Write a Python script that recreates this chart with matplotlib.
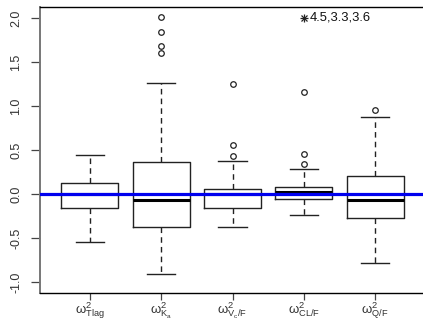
import matplotlib
matplotlib.use("Agg")
import matplotlib.pyplot as plt

labels = [r'$\mathrm{\omega}^{2}_{\mathrm{Tlag}}$',
          r'$\mathrm{\omega}^{2}_{\mathrm{K_a}}$',
          r'$\mathrm{\omega}^{2}_{\mathrm{V_c}/\mathrm{F}}$',
          r'$\mathrm{\omega}^{2}_{\mathrm{CL}/\mathrm{F}}$',
          r'$\mathrm{\omega}^{2}_{\mathrm{Q}/\mathrm{F}}$']
whislo = [-0.548, -0.909, -0.377, -0.237, -0.784]
q1 = [-0.164, -0.374, -0.161, -0.055, -0.267]
med = [0.0, -0.073, 0.0, 0.022, -0.062]
q3 = [0.121, 0.360, 0.059, 0.082, 0.204]
whishi = [0.446, 1.260, 0.378, 0.280, 0.879]
fliers = [[], [2.007, 1.844, 1.681, 1.597], [1.252, 0.557, 0.435],
          [1.164, 0.458, 0.337], [0.956]]
note_text = "4.5,3.3,3.6"
note_x, note_y = 4, 2.0
yticks = [-1.0, -0.5, 0.0, 0.5, 1.0, 1.5, 2.0]

plt.rcParams['font.family'] = ['Liberation Sans', 'DejaVu Sans']
plt.rcParams['mathtext.fontset'] = 'custom'
plt.rcParams['mathtext.rm'] = 'Liberation Sans'
plt.rcParams['mathtext.it'] = 'Liberation Sans:italic'
plt.rcParams['mathtext.bf'] = 'Liberation Sans:bold'

W, H = 423, 322
fig = plt.figure(figsize=(W/100, H/100), dpi=100)
left_px, right_px, top_px, bot_px = 40.1, 424.9, 7.3, 292.7
ax = fig.add_axes([left_px/W, 1-bot_px/H, (right_px-left_px)/W, (bot_px-top_px)/H])

stats = []
for i in range(5):
    stats.append(dict(med=med[i], q1=q1[i], q3=q3[i], whislo=whislo[i],
                      whishi=whishi[i], fliers=fliers[i], label=labels[i]))

ec = '#222222'
ax.bxp(stats, positions=range(1, 6), widths=0.8, patch_artist=False,
       boxprops=dict(color=ec, linewidth=1.0),
       whiskerprops=dict(color=ec, linewidth=1.0, linestyle=(0, (4, 3))),
       capprops=dict(color=ec, linewidth=1.0),
       medianprops=dict(color='black', linewidth=2.2, solid_capstyle='butt'),
       flierprops=dict(marker='o', markersize=4, markerfacecolor='none',
                       markeredgecolor=ec, markeredgewidth=0.9),
       capwidths=0.4)

ax.axhline(0, color='#0000ee', linewidth=2.3, zorder=5)

ax.plot([note_x], [note_y], marker='+', markersize=6, color='#222222', mew=0.9, ls='none')
ax.plot([note_x], [note_y], marker='x', markersize=5, color='#222222', mew=0.9, ls='none')
ax.text(note_x + 0.085, note_y, note_text, fontsize=9.4, va='center', ha='left', color='#111111')

ax.set_xlim(0.3, 5.7)
ax.set_ylim(-1.12, 2.12)
ax.set_yticks(yticks)
ax.set_yticklabels([f"{v:.1f}" for v in yticks], rotation=90, va='center', fontsize=9)
ax.set_xticks(range(1, 6))
ax.set_xticklabels(labels, fontsize=9.5)

ax.tick_params(axis='y', length=6.5, width=0.9, color='#444444', pad=6.5, labelcolor='#333333')
ax.tick_params(axis='x', length=5, width=0.9, color='#444444', pad=0.5, labelcolor='#333333')

ax.spines['left'].set_color('#777777')
ax.spines['left'].set_linewidth(1.4)
for s in ['top', 'bottom', 'right']:
    ax.spines[s].set_color('black')
    ax.spines[s].set_linewidth(1.0)

fig.savefig('out.png', dpi=100)
